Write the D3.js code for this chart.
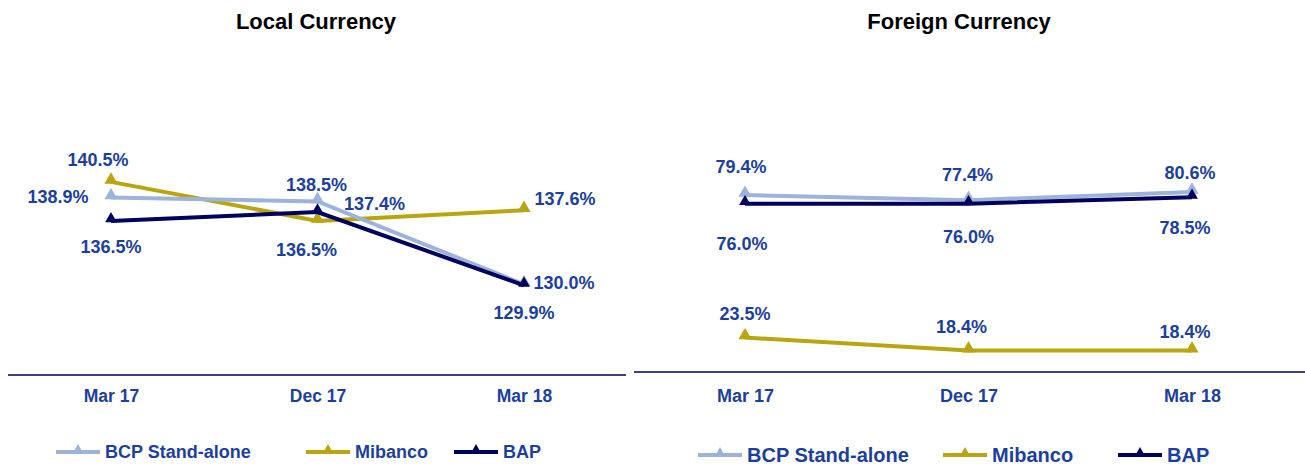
<!DOCTYPE html>
<html>
<head>
<meta charset="utf-8">
<script src="https://cdn.jsdelivr.net/npm/d3@7"></script>
<style>
  body { margin: 0; background: #fff; }
  svg { display: block; font-family: Arial, "Liberation Sans", sans-serif; }
</style>
</head>
<body>
<svg id="chart" width="1305" height="466"></svg>
<script>
// periods on the x axis
const periods = ["Mar 17", "Dec 17", "Mar 18"];
const seriesNames = ["BCP Stand-alone", "Mibanco", "BAP"];

// local currency ratios (%)
const localBCP = [138.9, 138.5, 130.0];
const localMibanco = [140.5, 136.5, 137.6];
const localBAP = [136.5, 137.4, 129.9];

// foreign currency ratios (%)
const foreignBCP = [79.4, 77.4, 80.6];
const foreignMibanco = [23.5, 18.4, 18.4];
const foreignBAP = [76.0, 76.0, 78.5];

// label centre offsets per point (dx, dy) – placement as in the reference
const localOffsets = [
  [[-53, -1], [-1, -17], [40, -2]],   // BCP
  [[-13, -22], [-11, 29], [41, -11]], // Mibanco
  [[0, 26], [57, -8], [0, 27]]        // BAP
];
const foreignOffsets = [
  [[-4, -28], [-1, -25], [-2, -19]],
  [[0, -24], [-7, -24], [-7, -19]],
  [[-3, 40], [0, 33], [-7, 30]]
];

const colors = ["#9db3da", "#b8a50f", "#00005e"];
const labelColor = "#1c3f9e";

const svg = d3.select("#chart");

function drawPanel(opts) {
  const g = svg.append("g");
  const x = d3.scalePoint().domain(periods).range(opts.xRange);
  const y = d3.scaleLinear().domain(opts.yDomain).range(opts.yRange);
  const data = [opts.bcp, opts.mib, opts.bap];

  // title
  g.append("text")
    .attr("x", opts.titleX).attr("y", 21).attr("dy", "0.35em")
    .attr("text-anchor", "middle")
    .style("font-size", "22px").style("font-weight", "bold")
    .style("fill", "#000")
    .text(opts.title);

  // x axis line
  g.append("line")
    .attr("x1", opts.axisX[0]).attr("x2", opts.axisX[1])
    .attr("y1", opts.yRange[0]).attr("y2", opts.yRange[0])
    .style("stroke", "#00005e").style("stroke-width", 1.5);

  const axis = d3.axisBottom(x).tickSize(0).tickPadding(0);
  const ax = g.append("g")
    .attr("transform", `translate(0,${opts.tickY})`)
    .call(axis);
  ax.select(".domain").remove();
  ax.selectAll("text")
    .attr("y", 0).attr("dy", "0.35em")
    .style("font-family", "Arial, 'Liberation Sans', sans-serif")
    .style("font-size", opts.tickSize)
    .style("font-weight", "bold")
    .style("fill", labelColor);

  const line = d3.line()
    .x((d, i) => x(periods[i]))
    .y(d => y(d));

  // draw in order: Mibanco, BCP, BAP (BAP on top)
  [1, 0, 2].forEach(s => {
    g.append("path")
      .datum(data[s])
      .attr("d", line)
      .style("fill", "none")
      .style("stroke", colors[s])
      .style("stroke-width", 4);

    g.selectAll(null)
      .data(data[s])
      .enter().append("path")
      .attr("d", d3.symbol().type(d3.symbolTriangle).size(s === 2 ? 60 : 75))
      .attr("transform", (d, i) => `translate(${x(periods[i])},${y(d) - 2})`)
      .style("fill", colors[s]);
  });

  // data labels
  data.forEach((vals, s) => {
    g.selectAll(null)
      .data(vals)
      .enter().append("text")
      .attr("x", (d, i) => x(periods[i]) + opts.offsets[s][i][0])
      .attr("y", (d, i) => y(d) + opts.offsets[s][i][1])
      .attr("dy", "0.35em")
      .attr("text-anchor", "middle")
      .style("font-size", "18px").style("font-weight", "bold")
      .style("fill", labelColor)
      .text(d => d.toFixed(1) + "%");
  });

  // legend
  const lg = g.append("g");
  seriesNames.forEach((name, s) => {
    const lx = opts.legendX[s];
    lg.append("line")
      .attr("x1", lx).attr("x2", lx + opts.legendLen)
      .attr("y1", opts.legendY).attr("y2", opts.legendY)
      .style("stroke", colors[s]).style("stroke-width", 4);
    lg.append("path")
      .attr("d", d3.symbol().type(d3.symbolTriangle).size(45))
      .attr("transform", `translate(${lx + opts.legendLen / 2},${opts.legendY - 2})`)
      .style("fill", colors[s]);
    lg.append("text")
      .attr("x", lx + opts.legendLen + 5)
      .attr("y", opts.legendY).attr("dy", "0.35em")
      .style("font-size", opts.legendSize).style("font-weight", "bold")
      .style("fill", labelColor)
      .text(name);
  });
}

drawPanel({
  title: "Local Currency", titleX: 316,
  xRange: [111, 524], axisX: [8, 626],
  yDomain: [120.7, 145], yRange: [375, 138],
  tickY: 396, tickSize: "17.5px",
  bcp: localBCP, mib: localMibanco, bap: localBAP,
  offsets: localOffsets,
  legendX: [56, 306, 454], legendLen: 44, legendY: 452, legendSize: "18px"
});

drawPanel({
  title: "Foreign Currency", titleX: 959,
  xRange: [745, 1192], axisX: [634, 1305],
  yDomain: [10, 90], yRange: [372, 168],
  tickY: 396, tickSize: "18px",
  bcp: foreignBCP, mib: foreignMibanco, bap: foreignBAP,
  offsets: foreignOffsets,
  legendX: [698, 943, 1118], legendLen: 44, legendY: 455, legendSize: "20px"
});
</script>
</body>
</html>
